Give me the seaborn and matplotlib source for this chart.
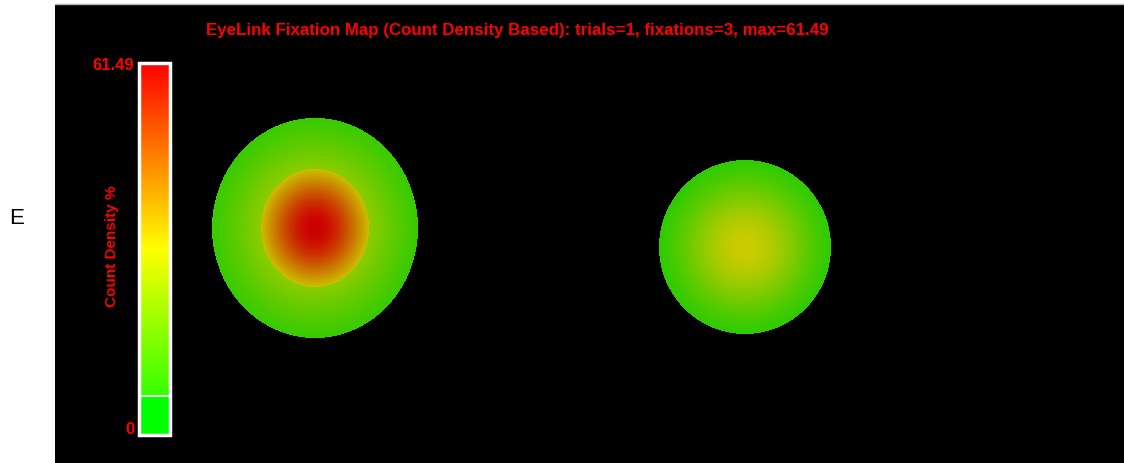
"""
EyeLink-style fixation map: count density of fixations drawn as a heatmap
on a black screen panel, with a vertical colour bar on the left.
"""

import matplotlib
matplotlib.use('Agg')

import matplotlib.pyplot as plt
import matplotlib.colors as mcolors
import seaborn as sns
import numpy as np

# Fixations in screen pixels (panel coordinates): centre, spread radius, gaussian sigma
FIX_X = [260, 260, 690]
FIX_Y = [224, 224, 243]
FIX_RX = [103, 54, 86]
FIX_RY = [110, 59, 87]
FIX_SIGMA = [66, 40, 50]
N_TRIALS = 1
MAX_PCT = 61.49
THRESH_FRAC = 0.104  # lower cut-off shown as white line on the bar

SCREEN_W, SCREEN_H = 1069, 459
FIG_W, FIG_H = 1124, 463
RED = '#ff0000'


def fixation_density(xs, ys, rxs, rys, sigmas):
    """Sum of truncated gaussians, one count per fixation."""
    yy, xx = np.mgrid[0:SCREEN_H, 0:SCREEN_W] + 0.5
    dens = np.zeros((SCREEN_H, SCREEN_W))
    for x, y, rx, ry, s in zip(xs, ys, rxs, rys, sigmas):
        d2 = ((xx - x) / rx) ** 2 + ((yy - y) / ry) ** 2
        k = (rx * ry) / (2 * s ** 2)
        dens += np.where(d2 <= 1, np.exp(-k * d2), 0.0)
    return dens


sns.set_style('white')
plt.rcParams['font.family'] = ['Liberation Sans', 'DejaVu Sans']

# green -> yellow -> red, flat green below the threshold
cmap = mcolors.LinearSegmentedColormap.from_list('eyelink', [
    (0.0, '#00ff00'), (THRESH_FRAC, '#00ff00'), (THRESH_FRAC + 1e-4, '#35ff00'),
    (0.5, '#ffff00'), (0.75, '#ff8000'), (1.0, '#ff0000')])

dens = fixation_density(FIX_X, FIX_Y, FIX_RX, FIX_RY, FIX_SIGMA)
dens_pct = dens / dens.max() * MAX_PCT

fig = plt.figure(figsize=(FIG_W / 100, FIG_H / 100), dpi=100, facecolor='white')

ax = fig.add_axes([55 / FIG_W, 0, SCREEN_W / FIG_W, SCREEN_H / FIG_H])
ax.set_facecolor('black')
sns.heatmap(dens_pct, mask=dens == 0, cmap=cmap, vmin=0, vmax=MAX_PCT,
            cbar=False, xticklabels=False, yticklabels=False, ax=ax,
            alpha=0.8, rasterized=True)
ax.set_xlabel('')
ax.set_ylabel('')
for side in ['bottom', 'right', 'left']:
    ax.spines[side].set_visible(False)
ax.spines['top'].set_visible(True)
ax.spines['top'].set_color('#b4b4b4')
ax.spines['top'].set_linewidth(1)

# colour bar
cax = fig.add_axes([139 / FIG_W, 28 / FIG_H, 31 / FIG_W, 372 / FIG_H])
sm = plt.cm.ScalarMappable(norm=mcolors.Normalize(0, MAX_PCT), cmap=cmap)
cbar = fig.colorbar(sm, cax=cax)
cbar.outline.set_edgecolor('white')
cbar.outline.set_linewidth(2.5)
cbar.set_ticks([])
cax.axhline(THRESH_FRAC * MAX_PCT, color='#e0e0e0', lw=1.5)

fig.text(134 / FIG_W, 1 - 65 / FIG_H, f'{MAX_PCT:.2f}', color=RED,
         fontsize=12, fontweight='bold', ha='right', va='center')
fig.text(134 / FIG_W, 1 - 430 / FIG_H, '0', color=RED,
         fontsize=12, fontweight='bold', ha='right', va='center')
fig.text(112 / FIG_W, 1 - 246 / FIG_H, 'Count Density %', color=RED,
         fontsize=11, fontweight='bold', rotation=90, ha='center', va='center')

fig.text(517 / FIG_W, 1 - 31 / FIG_H,
         f'EyeLink Fixation Map (Count Density Based): trials={N_TRIALS}, '
         f'fixations={len(FIX_X)}, max={MAX_PCT:.2f}',
         color=RED, fontsize=12.2, fontweight='bold', ha='center', va='center')

fig.text(17 / FIG_W, 1 - 219 / FIG_H, 'E', color='black', fontsize=16,
         ha='center', va='center')

fig.savefig('out.png', dpi=100, facecolor='white')
plt.close(fig)
